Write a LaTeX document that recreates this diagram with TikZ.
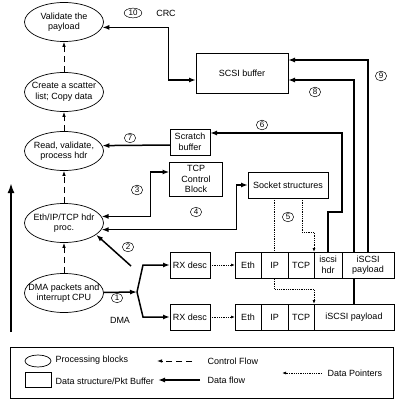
\documentclass[tikz,border=0pt]{standalone}
\usepackage{fontspec}
\setmainfont{Liberation Sans}
\usetikzlibrary{shapes.geometric, arrows.meta, positioning, backgrounds}

\tikzset{
  proc/.style={draw, ellipse, line width=0.7pt, minimum width=79pt, minimum height=39pt,
               inner xsep=-8pt, inner ysep=0pt, align=center},
  buf/.style={draw, fill=white, line width=0.7pt, inner sep=1pt, outer sep=0pt, align=center},
  cell/.style={buf, minimum height=26pt},
  num/.style={draw, ellipse, line width=0.5pt, inner xsep=1.8pt, inner ysep=0.6pt,
              font=\fontsize{8}{8}\selectfont},
  data/.style={line width=1.5pt},
  ctrl/.style={line width=0.8pt, dash pattern=on 6pt off 4pt, -{Latex[length=5pt,width=3.5pt]}},
  ptr/.style={line width=0.8pt, densely dotted, -{Latex[length=4pt,width=3pt]}},
}

\begin{document}
\begin{tikzpicture}[x=1pt, y=-1pt, >={Latex[length=7pt,width=5pt]},
                    font=\fontsize{9}{10.5}\selectfont]
    \useasboundingbox (0,0) rectangle (401,401);

    % processing blocks
    \node[proc] (val)  at (64,22)  {Validate the\\payload};
    \node[proc] (scat) at (64,92)  {Create a scatter\\list; Copy data};
    \node[proc] (read) at (64,151) {Read, validate,\\process hdr};
    \node[proc] (hdr)  at (64,223) {Eth/IP/TCP hdr\\proc.};
    \node[proc] (dma)  at (64,293) {DMA packets and\\interrupt CPU};

    % data structures
    \node[buf, minimum width=92pt, minimum height=40pt] (scsi) at (242,73)  {SCSI buffer};
    \node[buf, minimum width=40pt, minimum height=26pt] (scr)  at (190,142) {Scratch\\buffer};
    \node[buf, minimum width=53pt, minimum height=34pt] (tcb)  at (196,179) {TCP\\Control\\Block};
    \node[buf, minimum width=80pt, minimum height=26pt] (sock) at (288,185) {Socket structures};
    \node[buf, minimum width=40pt, minimum height=26pt] (rx1)  at (190,265) {RX desc};
    \node[buf, minimum width=40pt, minimum height=26pt] (rx2)  at (190,317) {RX desc};

    % packet buffers
    \node[cell, minimum width=26pt] (eth1) at (248,265) {Eth};
    \node[cell, minimum width=27pt, right=0pt of eth1] (ip1)  {IP};
    \node[cell, minimum width=26pt, right=0pt of ip1]  (tcp1) {TCP};
    \node[cell, minimum width=28pt, right=0pt of tcp1] (ish1) {iscsi\\hdr};
    \node[cell, minimum width=52pt, right=0pt of ish1] (pay1) {iSCSI\\payload};

    \node[cell, minimum width=26pt] (eth2) at (248,317) {Eth};
    \node[cell, minimum width=27pt, right=0pt of eth2] (ip2)  {IP};
    \node[cell, minimum width=26pt, right=0pt of ip2]  (tcp2) {TCP};
    \node[cell, minimum width=80pt, right=0pt of tcp2] (pay2) {iSCSI payload};

    % control flow
    \foreach \a/\b in {dma/hdr, hdr/read, read/scat, scat/val}
        \draw[ctrl] (\a) -- (\b);

    \coordinate (up0) at (11,332);
    \coordinate (up1) at (11,183);
    \draw[line width=2.6pt, -{Latex[length=10pt,width=7pt]}] (up0) -- (up1);

    % DMA
    \coordinate (fork)  at (137,292);
    \coordinate (forkb) at (143,292);
    \draw[data,->] (dma) -- (fork);
    \draw[data,->] (fork) -- (forkb |- rx1) -- (rx1);
    \draw[data,->] (fork) -- (forkb |- rx2) -- (rx2);
    \draw[ptr] (rx1) -- (eth1);
    \draw[ptr] (rx2) -- (eth2);

    % data flow
    \coordinate (a2) at (131,266);
    \draw[data,->] (a2) -- (hdr.-20);
    \draw[data,<->] (hdr.10) -- ++(49,0) |- ([yshift=7pt]tcb.west);
    \draw[data,<->] (hdr.-10) -- ++(135,0) |- (sock.west);
    \draw[data,->] ([yshift=-3pt]scr.west) -- (read.8);
    \coordinate (j6) at (342,212);
    \draw[data,->] (ish1.north) |- (j6) |- ([yshift=9pt]scr.east);
    \draw[data,->] (pay1.north) |- ([yshift=13pt]scsi.east);
    \draw[data,<->] (val.-8) -- ++(66,0) |- ([yshift=-7pt]scsi.west);

    \begin{scope}[on background layer]
        \draw[data,->] (pay2.north) |- ([yshift=-7pt]scsi.east);
        \draw[ptr] (sock.south -| ip1) -- ([yshift=-11pt]ip1.south) -| (pay2.north west);
    \end{scope}
    \draw[ptr] ([xshift=14pt]sock.south) -- ++(0,34) -| (ish1.north west);

    % step numbers
    \node[num] (n1)  at (117,298) {1};
    \node[num] (n2)  at (128,247) {2};
    \node[num] (n3)  at (137,190) {3};
    \node[num] (n4)  at (196,212) {4};
    \node[num] (n5)  at (288,217) {5};
    \node[num] (n6)  at (262,125) {6};
    \node[num] (n7)  at (130,138) {7};
    \node[num] (n8)  at (315,92)  {8};
    \node[num] (n9)  at (381,76)  {9};
    \node[num] (n10) at (133,13)  {10};
    \node (crc) at (166,13) {CRC};
    \node (dmatxt) at (120,320) {DMA};

    % legend
    \node[draw, line width=0.7pt, minimum width=383pt, minimum height=51pt, inner sep=0pt]
        (key) at (201.5,372.5) {};
    \node[draw, ellipse, line width=0.7pt, minimum width=26pt, minimum height=12pt] (kproc) at (38,361) {};
    \node[anchor=west] (kproctxt) at (52,360) {Processing blocks};
    \node[draw, line width=0.7pt, minimum width=26pt, minimum height=15pt] (kbuf) at (38,380) {};
    \node[anchor=west] (kbuftxt) at (52,381) {Data structure/Pkt Buffer};
    \node[anchor=west] (kctrl) at (204,361) {Control Flow};
    \draw[ctrl] ([xshift=-12pt]kctrl.west) -- ++(-35,0);
    \node[anchor=west] (kdata) at (204,380) {Data flow};
    \draw[data,->] ([xshift=-4pt]kdata.west) -- ++(-42,0);
    \node[anchor=west] (kptr) at (324,373) {Data Pointers};
    \draw[ptr] ([xshift=-2pt]kptr.west) -- ++(-40,0);
\end{tikzpicture}
\end{document}
